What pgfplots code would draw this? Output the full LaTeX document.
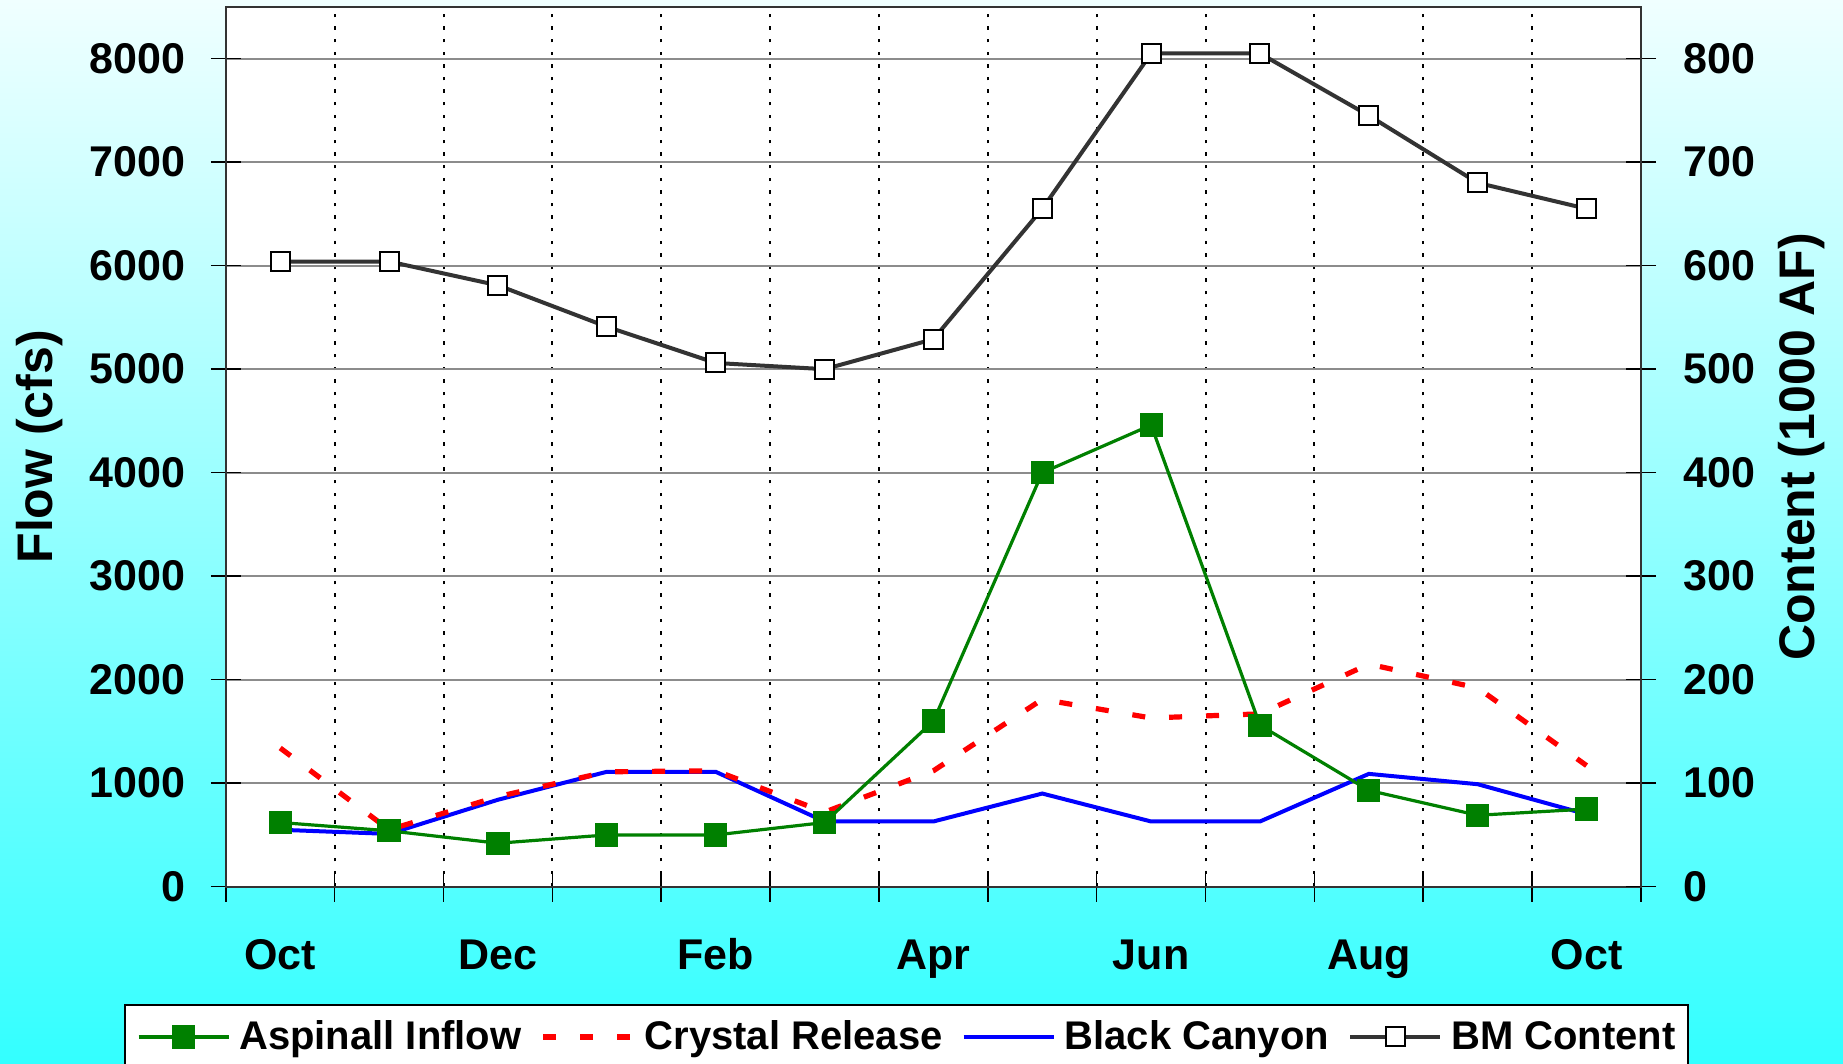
\documentclass[border=0pt]{standalone}
\usepackage{pgfplots}
\pgfplotsset{compat=1.18}
\usepackage{fontspec}
\setmainfont{Liberation Sans}
\definecolor{xgreen}{RGB}{0,128,0}
\definecolor{xgray}{RGB}{51,51,51}
\begin{document}
\begin{tikzpicture}
\path[use as bounding box] (0,0) rectangle (921.5pt,532pt);
\clip (0,0) rectangle (921.5pt,532pt);
\fill[top color={rgb,255:red,240;green,255;blue,255}, bottom color={rgb,255:red,51;green,255;blue,255}] (0,0) rectangle (921.5pt,532pt);
\pgfplotsset{
  mybase/.style={
    scale only axis, width=707.6pt, height=439.9pt,
    at={(112.9pt,88.65pt)}, anchor=south west,
    xmin=-0.5, xmax=12.5,
    tick label style={font=\bfseries\fontsize{21.5}{21.5}\selectfont},
    /pgf/number format/assume math mode=true,
    /pgf/number format/1000 sep={},
    major tick length=15pt,
    tick align=center,
    tick style={black, line width=0.8pt},
    axis line style={black!80, line width=1pt},
    label style={font=\bfseries\fontsize{25}{25}\selectfont},
  }
}
\begin{axis}[mybase,
  ymin=0, ymax=8500, ytick={0,1000,...,8000},
  xtick={-0.5,0.5,...,12.5}, xticklabels={,,,,,,,,,,,,,},
  extra x ticks={0,2,4,6,8,10,12},
  extra x tick labels={Oct,Dec,Feb,Apr,Jun,Aug,Oct},
  extra x tick style={grid=none, tick style={draw=none}, xticklabel style={anchor=base, yshift=-33.8pt}},
  xmajorgrids, ymajorgrids,
  x grid style={black, line width=1pt, dash pattern=on 1.7pt off 4.6pt},
  y grid style={black!45, line width=0.9pt},
  yticklabel style={anchor=east, inner sep=0pt, xshift=-12.6pt},
  ytick pos=left, xtick pos=left,
  ylabel={Flow (cfs)},
  ylabel style={at={(axis description cs:-0.1317,0.5)}, anchor=center},
  axis background/.style={fill=white},
]
\addplot[blue, line width=2pt] coordinates {
(0,550) (1,510) (2,840) (3,1110) (4,1110) (5,630) (6,630) (7,900) (8,630) (9,630) (10,1090) (11,990) (12,700)};
\addplot[red, line width=2.6pt, dash pattern=on 6.5pt off 12pt] coordinates {
(0,1340) (1,550) (2,870) (3,1110) (4,1120) (5,720) (6,1120) (7,1810) (8,1630) (9,1670) (10,2150) (11,1920) (12,1170)};
\addplot[xgreen, line width=1.6pt, mark=square*, mark size=5pt, mark options={solid}] coordinates {
(0,620) (1,540) (2,420) (3,500) (4,500) (5,620) (6,1600) (7,4000) (8,4460) (9,1560) (10,930) (11,690) (12,750)};
\end{axis}
\begin{axis}[mybase,
  ymin=0, ymax=850, ytick={0,100,...,800},
  axis x line=none, axis y line*=right,
  yticklabel style={anchor=west, inner sep=0pt, xshift=13.5pt},
  ylabel={Content (1000 AF)},
  ylabel style={at={(axis description cs:1.1137,0.5)}, anchor=center},
  legend columns=4,
  legend style={at={(-0.0719,-0.1333)}, anchor=north west, draw=black, line width=1pt, fill=white,
    font=\bfseries\fontsize{20}{24}\selectfont, inner xsep=6pt, inner ysep=8pt,
    nodes={inner sep=0pt},
    /tikz/every odd column/.append style={column sep=4.5pt},
    /tikz/every even column/.append style={column sep=9.5pt}},
  legend image code/.code={\draw[mark repeat=2,mark phase=2,#1] plot coordinates {(0pt,0pt) (22.5pt,0pt) (45pt,0pt)};},
]
\addlegendimage{xgreen, line width=1.6pt, mark=square*, mark size=5pt, mark options={solid}}
\addlegendentry{Aspinall Inflow}
\addlegendimage{red, line width=2.6pt, dash pattern=on 6.5pt off 12pt}
\addlegendentry{Crystal Release}
\addlegendimage{blue, line width=2pt}
\addlegendentry{Black Canyon}
\addplot[xgray, line width=2pt, mark=square*, mark size=4.75pt, mark options={solid, fill=white, draw=black, line width=1pt}] coordinates {
(0,604) (1,604) (2,581) (3,541) (4,506) (5,500) (6,529) (7,655) (8,805) (9,805) (10,745) (11,680) (12,655)};
\addlegendentry{BM Content}
\end{axis}
\end{tikzpicture}
\end{document}
